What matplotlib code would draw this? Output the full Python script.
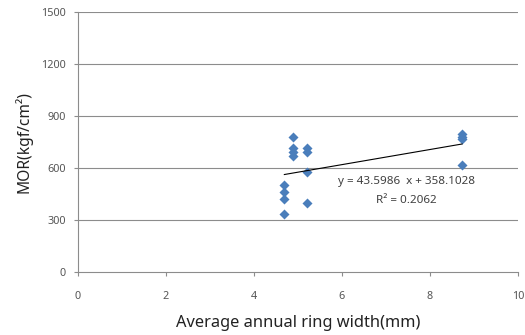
import matplotlib
matplotlib.use("Agg")
import matplotlib.pyplot as plt
import numpy as np

ring_width = [4.69, 4.69, 4.69, 4.69, 4.89, 4.89, 4.89, 4.89,
              5.21, 5.21, 5.21, 5.21, 8.73, 8.73, 8.73, 8.73]
mor = [500, 460, 423, 333, 777, 714, 692, 669,
       714, 694, 579, 396, 796, 781, 769, 619]
slope = 43.5986
intercept = 358.1028
r2 = 0.2062
x_ticks = [0, 2, 4, 6, 8, 10]
y_ticks = [0, 300, 600, 900, 1200, 1500]

plt.rcParams['font.family'] = ['Noto Sans', 'DejaVu Sans']
fig = plt.figure(figsize=(5.25, 3.35), dpi=100)
ax = fig.add_axes([0.1486, 0.188, 0.838, 0.776])

ax.scatter(ring_width, mor, marker='D', s=26, color='#4A7EBB', zorder=3, linewidths=0)
xl = np.array([min(ring_width), max(ring_width)])
ax.plot(xl, slope * xl + intercept, color='black', lw=0.8, zorder=4)

ax.set_xlim(0, 10)
ax.set_ylim(0, 1500)
ax.set_xticks(x_ticks)
ax.set_yticks(y_ticks)
ax.set_xticklabels([str(v) for v in x_ticks], fontsize=7.8, color='#555555')
ax.set_yticklabels([str(v) for v in y_ticks], fontsize=7.8, color='#555555')
for y in y_ticks[1:]:
    ax.axhline(y, color='#8C8C8C', lw=0.8, zorder=1)
for s in ['top', 'right']:
    ax.spines[s].set_visible(False)
for s in ['left', 'bottom']:
    ax.spines[s].set_color('#8C8C8C')
    ax.spines[s].set_linewidth(0.8)
ax.tick_params(axis='both', length=3, color='#8C8C8C', width=0.8)
ax.tick_params(axis='x', pad=11)
ax.tick_params(axis='y', pad=6)

ax.set_xlabel('Average annual ring width(mm)', fontsize=11.8, labelpad=9, color='#222222')
ax.set_ylabel('MOR(kgf/cm²)', fontsize=11.2, labelpad=6, color='#222222')

ax.text(7.47, 525, 'y = %.4f  x + %.4f' % (slope, intercept), fontsize=8.4,
        color='#404040', ha='center', va='center')
ax.text(7.47, 412, 'R² = %.4f' % r2, fontsize=8.4, color='#404040',
        ha='center', va='center')

fig.savefig('out.png', dpi=100)
